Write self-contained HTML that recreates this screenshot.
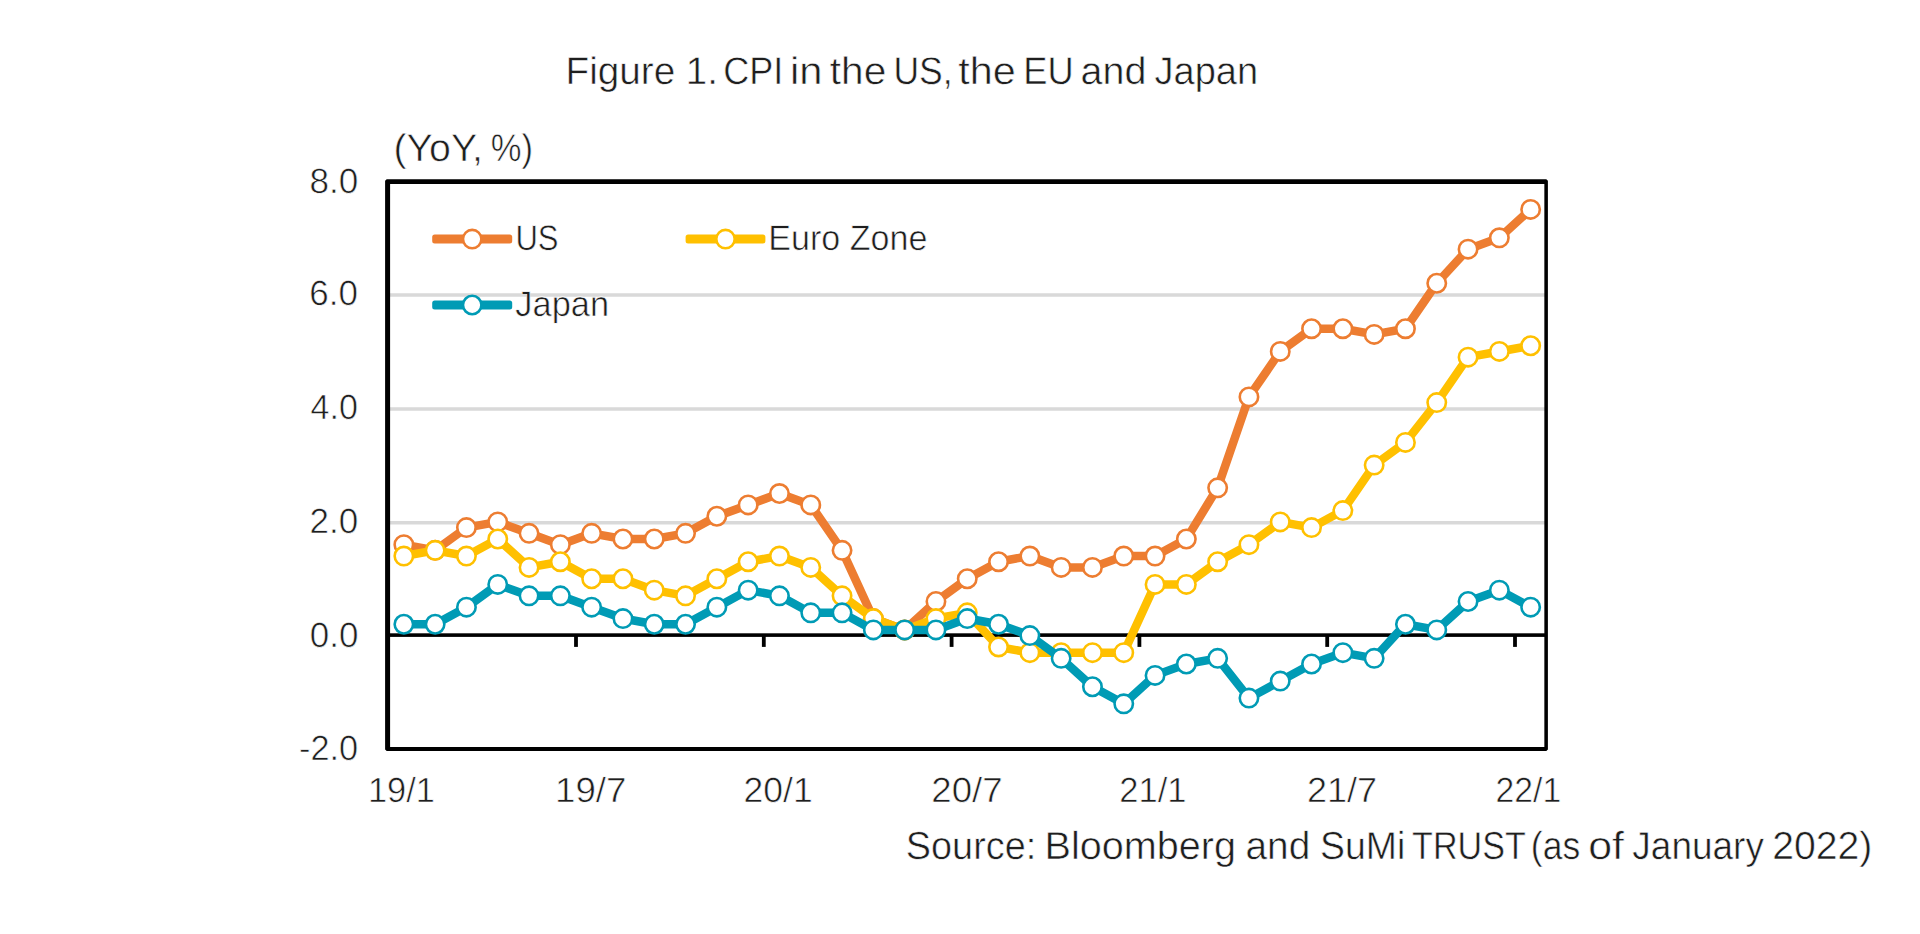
<!DOCTYPE html>
<html><head><meta charset="utf-8"><title>Figure 1. CPI in the US, the EU and Japan</title>
<style>
html,body{margin:0;padding:0;background:#fff;}
body{width:1920px;height:934px;overflow:hidden;}
svg{display:block;font-family:"Liberation Sans",sans-serif;}
text{fill:#1e1e1e;text-rendering:geometricPrecision;}
</style></head><body>
<svg width="1920" height="934" viewBox="0 0 1920 934">
<rect width="1920" height="934" fill="#fff"/>
<rect x="390" y="293.25" width="1155" height="3.5" fill="#d9d9d9"/>
<rect x="390" y="407.25" width="1155" height="3.5" fill="#d9d9d9"/>
<rect x="390" y="521.00" width="1155" height="3.5" fill="#d9d9d9"/>
<rect x="390" y="633.3" width="1155" height="3.6" fill="#000"/>
<rect x="574.10" y="635" width="3.8" height="11.9" fill="#000"/>
<rect x="761.90" y="635" width="3.8" height="11.9" fill="#000"/>
<rect x="949.70" y="635" width="3.8" height="11.9" fill="#000"/>
<rect x="1137.50" y="635" width="3.8" height="11.9" fill="#000"/>
<rect x="1325.30" y="635" width="3.8" height="11.9" fill="#000"/>
<rect x="1513.10" y="635" width="3.8" height="11.9" fill="#000"/>
<polyline points="403.85,544.67 435.15,550.36 466.45,527.62 497.75,521.94 529.05,533.31 560.35,544.67 591.65,533.31 622.95,538.99 654.25,538.99 685.55,533.31 716.85,516.26 748.15,504.89 779.45,493.53 810.75,504.89 842.05,550.36 873.35,618.55 904.65,629.92 935.95,601.50 967.25,578.77 998.55,561.72 1029.85,556.04 1061.15,567.40 1092.45,567.40 1123.75,556.04 1155.05,556.04 1186.35,538.99 1217.65,487.84 1248.95,396.91 1280.25,351.45 1311.55,328.72 1342.85,328.72 1374.15,334.40 1405.45,328.72 1436.75,283.25 1468.05,249.16 1499.35,237.79 1530.65,209.38" fill="none" stroke="#ed7d31" stroke-width="8.5" stroke-linejoin="round" stroke-linecap="round"/>
<circle cx="403.85" cy="544.67" r="9.2" fill="#fff" stroke="#ed7d31" stroke-width="2.6"/>
<circle cx="435.15" cy="550.36" r="9.2" fill="#fff" stroke="#ed7d31" stroke-width="2.6"/>
<circle cx="466.45" cy="527.62" r="9.2" fill="#fff" stroke="#ed7d31" stroke-width="2.6"/>
<circle cx="497.75" cy="521.94" r="9.2" fill="#fff" stroke="#ed7d31" stroke-width="2.6"/>
<circle cx="529.05" cy="533.31" r="9.2" fill="#fff" stroke="#ed7d31" stroke-width="2.6"/>
<circle cx="560.35" cy="544.67" r="9.2" fill="#fff" stroke="#ed7d31" stroke-width="2.6"/>
<circle cx="591.65" cy="533.31" r="9.2" fill="#fff" stroke="#ed7d31" stroke-width="2.6"/>
<circle cx="622.95" cy="538.99" r="9.2" fill="#fff" stroke="#ed7d31" stroke-width="2.6"/>
<circle cx="654.25" cy="538.99" r="9.2" fill="#fff" stroke="#ed7d31" stroke-width="2.6"/>
<circle cx="685.55" cy="533.31" r="9.2" fill="#fff" stroke="#ed7d31" stroke-width="2.6"/>
<circle cx="716.85" cy="516.26" r="9.2" fill="#fff" stroke="#ed7d31" stroke-width="2.6"/>
<circle cx="748.15" cy="504.89" r="9.2" fill="#fff" stroke="#ed7d31" stroke-width="2.6"/>
<circle cx="779.45" cy="493.53" r="9.2" fill="#fff" stroke="#ed7d31" stroke-width="2.6"/>
<circle cx="810.75" cy="504.89" r="9.2" fill="#fff" stroke="#ed7d31" stroke-width="2.6"/>
<circle cx="842.05" cy="550.36" r="9.2" fill="#fff" stroke="#ed7d31" stroke-width="2.6"/>
<circle cx="873.35" cy="618.55" r="9.2" fill="#fff" stroke="#ed7d31" stroke-width="2.6"/>
<circle cx="904.65" cy="629.92" r="9.2" fill="#fff" stroke="#ed7d31" stroke-width="2.6"/>
<circle cx="935.95" cy="601.50" r="9.2" fill="#fff" stroke="#ed7d31" stroke-width="2.6"/>
<circle cx="967.25" cy="578.77" r="9.2" fill="#fff" stroke="#ed7d31" stroke-width="2.6"/>
<circle cx="998.55" cy="561.72" r="9.2" fill="#fff" stroke="#ed7d31" stroke-width="2.6"/>
<circle cx="1029.85" cy="556.04" r="9.2" fill="#fff" stroke="#ed7d31" stroke-width="2.6"/>
<circle cx="1061.15" cy="567.40" r="9.2" fill="#fff" stroke="#ed7d31" stroke-width="2.6"/>
<circle cx="1092.45" cy="567.40" r="9.2" fill="#fff" stroke="#ed7d31" stroke-width="2.6"/>
<circle cx="1123.75" cy="556.04" r="9.2" fill="#fff" stroke="#ed7d31" stroke-width="2.6"/>
<circle cx="1155.05" cy="556.04" r="9.2" fill="#fff" stroke="#ed7d31" stroke-width="2.6"/>
<circle cx="1186.35" cy="538.99" r="9.2" fill="#fff" stroke="#ed7d31" stroke-width="2.6"/>
<circle cx="1217.65" cy="487.84" r="9.2" fill="#fff" stroke="#ed7d31" stroke-width="2.6"/>
<circle cx="1248.95" cy="396.91" r="9.2" fill="#fff" stroke="#ed7d31" stroke-width="2.6"/>
<circle cx="1280.25" cy="351.45" r="9.2" fill="#fff" stroke="#ed7d31" stroke-width="2.6"/>
<circle cx="1311.55" cy="328.72" r="9.2" fill="#fff" stroke="#ed7d31" stroke-width="2.6"/>
<circle cx="1342.85" cy="328.72" r="9.2" fill="#fff" stroke="#ed7d31" stroke-width="2.6"/>
<circle cx="1374.15" cy="334.40" r="9.2" fill="#fff" stroke="#ed7d31" stroke-width="2.6"/>
<circle cx="1405.45" cy="328.72" r="9.2" fill="#fff" stroke="#ed7d31" stroke-width="2.6"/>
<circle cx="1436.75" cy="283.25" r="9.2" fill="#fff" stroke="#ed7d31" stroke-width="2.6"/>
<circle cx="1468.05" cy="249.16" r="9.2" fill="#fff" stroke="#ed7d31" stroke-width="2.6"/>
<circle cx="1499.35" cy="237.79" r="9.2" fill="#fff" stroke="#ed7d31" stroke-width="2.6"/>
<circle cx="1530.65" cy="209.38" r="9.2" fill="#fff" stroke="#ed7d31" stroke-width="2.6"/>
<polyline points="403.85,556.04 435.15,550.36 466.45,556.04 497.75,538.99 529.05,567.40 560.35,561.72 591.65,578.77 622.95,578.77 654.25,590.14 685.55,595.82 716.85,578.77 748.15,561.72 779.45,556.04 810.75,567.40 842.05,595.82 873.35,618.55 904.65,629.92 935.95,618.55 967.25,612.87 998.55,646.97 1029.85,652.65 1061.15,652.65 1092.45,652.65 1123.75,652.65 1155.05,584.45 1186.35,584.45 1217.65,561.72 1248.95,544.67 1280.25,521.94 1311.55,527.62 1342.85,510.57 1374.15,465.11 1405.45,442.38 1436.75,402.60 1468.05,357.13 1499.35,351.45 1530.65,345.77" fill="none" stroke="#ffc000" stroke-width="8.5" stroke-linejoin="round" stroke-linecap="round"/>
<circle cx="403.85" cy="556.04" r="9.2" fill="#fff" stroke="#ffc000" stroke-width="2.6"/>
<circle cx="435.15" cy="550.36" r="9.2" fill="#fff" stroke="#ffc000" stroke-width="2.6"/>
<circle cx="466.45" cy="556.04" r="9.2" fill="#fff" stroke="#ffc000" stroke-width="2.6"/>
<circle cx="497.75" cy="538.99" r="9.2" fill="#fff" stroke="#ffc000" stroke-width="2.6"/>
<circle cx="529.05" cy="567.40" r="9.2" fill="#fff" stroke="#ffc000" stroke-width="2.6"/>
<circle cx="560.35" cy="561.72" r="9.2" fill="#fff" stroke="#ffc000" stroke-width="2.6"/>
<circle cx="591.65" cy="578.77" r="9.2" fill="#fff" stroke="#ffc000" stroke-width="2.6"/>
<circle cx="622.95" cy="578.77" r="9.2" fill="#fff" stroke="#ffc000" stroke-width="2.6"/>
<circle cx="654.25" cy="590.14" r="9.2" fill="#fff" stroke="#ffc000" stroke-width="2.6"/>
<circle cx="685.55" cy="595.82" r="9.2" fill="#fff" stroke="#ffc000" stroke-width="2.6"/>
<circle cx="716.85" cy="578.77" r="9.2" fill="#fff" stroke="#ffc000" stroke-width="2.6"/>
<circle cx="748.15" cy="561.72" r="9.2" fill="#fff" stroke="#ffc000" stroke-width="2.6"/>
<circle cx="779.45" cy="556.04" r="9.2" fill="#fff" stroke="#ffc000" stroke-width="2.6"/>
<circle cx="810.75" cy="567.40" r="9.2" fill="#fff" stroke="#ffc000" stroke-width="2.6"/>
<circle cx="842.05" cy="595.82" r="9.2" fill="#fff" stroke="#ffc000" stroke-width="2.6"/>
<circle cx="873.35" cy="618.55" r="9.2" fill="#fff" stroke="#ffc000" stroke-width="2.6"/>
<circle cx="904.65" cy="629.92" r="9.2" fill="#fff" stroke="#ffc000" stroke-width="2.6"/>
<circle cx="935.95" cy="618.55" r="9.2" fill="#fff" stroke="#ffc000" stroke-width="2.6"/>
<circle cx="967.25" cy="612.87" r="9.2" fill="#fff" stroke="#ffc000" stroke-width="2.6"/>
<circle cx="998.55" cy="646.97" r="9.2" fill="#fff" stroke="#ffc000" stroke-width="2.6"/>
<circle cx="1029.85" cy="652.65" r="9.2" fill="#fff" stroke="#ffc000" stroke-width="2.6"/>
<circle cx="1061.15" cy="652.65" r="9.2" fill="#fff" stroke="#ffc000" stroke-width="2.6"/>
<circle cx="1092.45" cy="652.65" r="9.2" fill="#fff" stroke="#ffc000" stroke-width="2.6"/>
<circle cx="1123.75" cy="652.65" r="9.2" fill="#fff" stroke="#ffc000" stroke-width="2.6"/>
<circle cx="1155.05" cy="584.45" r="9.2" fill="#fff" stroke="#ffc000" stroke-width="2.6"/>
<circle cx="1186.35" cy="584.45" r="9.2" fill="#fff" stroke="#ffc000" stroke-width="2.6"/>
<circle cx="1217.65" cy="561.72" r="9.2" fill="#fff" stroke="#ffc000" stroke-width="2.6"/>
<circle cx="1248.95" cy="544.67" r="9.2" fill="#fff" stroke="#ffc000" stroke-width="2.6"/>
<circle cx="1280.25" cy="521.94" r="9.2" fill="#fff" stroke="#ffc000" stroke-width="2.6"/>
<circle cx="1311.55" cy="527.62" r="9.2" fill="#fff" stroke="#ffc000" stroke-width="2.6"/>
<circle cx="1342.85" cy="510.57" r="9.2" fill="#fff" stroke="#ffc000" stroke-width="2.6"/>
<circle cx="1374.15" cy="465.11" r="9.2" fill="#fff" stroke="#ffc000" stroke-width="2.6"/>
<circle cx="1405.45" cy="442.38" r="9.2" fill="#fff" stroke="#ffc000" stroke-width="2.6"/>
<circle cx="1436.75" cy="402.60" r="9.2" fill="#fff" stroke="#ffc000" stroke-width="2.6"/>
<circle cx="1468.05" cy="357.13" r="9.2" fill="#fff" stroke="#ffc000" stroke-width="2.6"/>
<circle cx="1499.35" cy="351.45" r="9.2" fill="#fff" stroke="#ffc000" stroke-width="2.6"/>
<circle cx="1530.65" cy="345.77" r="9.2" fill="#fff" stroke="#ffc000" stroke-width="2.6"/>
<polyline points="403.85,624.23 435.15,624.23 466.45,607.19 497.75,584.45 529.05,595.82 560.35,595.82 591.65,607.19 622.95,618.55 654.25,624.23 685.55,624.23 716.85,607.19 748.15,590.14 779.45,595.82 810.75,612.87 842.05,612.87 873.35,629.92 904.65,629.92 935.95,629.92 967.25,618.55 998.55,624.23 1029.85,635.60 1061.15,658.33 1092.45,686.75 1123.75,703.80 1155.05,675.38 1186.35,664.01 1217.65,658.33 1248.95,698.11 1280.25,681.06 1311.55,664.01 1342.85,652.65 1374.15,658.33 1405.45,624.23 1436.75,629.92 1468.05,601.50 1499.35,590.14 1530.65,607.19" fill="none" stroke="#009bb5" stroke-width="8.5" stroke-linejoin="round" stroke-linecap="round"/>
<circle cx="403.85" cy="624.23" r="9.2" fill="#fff" stroke="#009bb5" stroke-width="2.6"/>
<circle cx="435.15" cy="624.23" r="9.2" fill="#fff" stroke="#009bb5" stroke-width="2.6"/>
<circle cx="466.45" cy="607.19" r="9.2" fill="#fff" stroke="#009bb5" stroke-width="2.6"/>
<circle cx="497.75" cy="584.45" r="9.2" fill="#fff" stroke="#009bb5" stroke-width="2.6"/>
<circle cx="529.05" cy="595.82" r="9.2" fill="#fff" stroke="#009bb5" stroke-width="2.6"/>
<circle cx="560.35" cy="595.82" r="9.2" fill="#fff" stroke="#009bb5" stroke-width="2.6"/>
<circle cx="591.65" cy="607.19" r="9.2" fill="#fff" stroke="#009bb5" stroke-width="2.6"/>
<circle cx="622.95" cy="618.55" r="9.2" fill="#fff" stroke="#009bb5" stroke-width="2.6"/>
<circle cx="654.25" cy="624.23" r="9.2" fill="#fff" stroke="#009bb5" stroke-width="2.6"/>
<circle cx="685.55" cy="624.23" r="9.2" fill="#fff" stroke="#009bb5" stroke-width="2.6"/>
<circle cx="716.85" cy="607.19" r="9.2" fill="#fff" stroke="#009bb5" stroke-width="2.6"/>
<circle cx="748.15" cy="590.14" r="9.2" fill="#fff" stroke="#009bb5" stroke-width="2.6"/>
<circle cx="779.45" cy="595.82" r="9.2" fill="#fff" stroke="#009bb5" stroke-width="2.6"/>
<circle cx="810.75" cy="612.87" r="9.2" fill="#fff" stroke="#009bb5" stroke-width="2.6"/>
<circle cx="842.05" cy="612.87" r="9.2" fill="#fff" stroke="#009bb5" stroke-width="2.6"/>
<circle cx="873.35" cy="629.92" r="9.2" fill="#fff" stroke="#009bb5" stroke-width="2.6"/>
<circle cx="904.65" cy="629.92" r="9.2" fill="#fff" stroke="#009bb5" stroke-width="2.6"/>
<circle cx="935.95" cy="629.92" r="9.2" fill="#fff" stroke="#009bb5" stroke-width="2.6"/>
<circle cx="967.25" cy="618.55" r="9.2" fill="#fff" stroke="#009bb5" stroke-width="2.6"/>
<circle cx="998.55" cy="624.23" r="9.2" fill="#fff" stroke="#009bb5" stroke-width="2.6"/>
<circle cx="1029.85" cy="635.60" r="9.2" fill="#fff" stroke="#009bb5" stroke-width="2.6"/>
<circle cx="1061.15" cy="658.33" r="9.2" fill="#fff" stroke="#009bb5" stroke-width="2.6"/>
<circle cx="1092.45" cy="686.75" r="9.2" fill="#fff" stroke="#009bb5" stroke-width="2.6"/>
<circle cx="1123.75" cy="703.80" r="9.2" fill="#fff" stroke="#009bb5" stroke-width="2.6"/>
<circle cx="1155.05" cy="675.38" r="9.2" fill="#fff" stroke="#009bb5" stroke-width="2.6"/>
<circle cx="1186.35" cy="664.01" r="9.2" fill="#fff" stroke="#009bb5" stroke-width="2.6"/>
<circle cx="1217.65" cy="658.33" r="9.2" fill="#fff" stroke="#009bb5" stroke-width="2.6"/>
<circle cx="1248.95" cy="698.11" r="9.2" fill="#fff" stroke="#009bb5" stroke-width="2.6"/>
<circle cx="1280.25" cy="681.06" r="9.2" fill="#fff" stroke="#009bb5" stroke-width="2.6"/>
<circle cx="1311.55" cy="664.01" r="9.2" fill="#fff" stroke="#009bb5" stroke-width="2.6"/>
<circle cx="1342.85" cy="652.65" r="9.2" fill="#fff" stroke="#009bb5" stroke-width="2.6"/>
<circle cx="1374.15" cy="658.33" r="9.2" fill="#fff" stroke="#009bb5" stroke-width="2.6"/>
<circle cx="1405.45" cy="624.23" r="9.2" fill="#fff" stroke="#009bb5" stroke-width="2.6"/>
<circle cx="1436.75" cy="629.92" r="9.2" fill="#fff" stroke="#009bb5" stroke-width="2.6"/>
<circle cx="1468.05" cy="601.50" r="9.2" fill="#fff" stroke="#009bb5" stroke-width="2.6"/>
<circle cx="1499.35" cy="590.14" r="9.2" fill="#fff" stroke="#009bb5" stroke-width="2.6"/>
<circle cx="1530.65" cy="607.19" r="9.2" fill="#fff" stroke="#009bb5" stroke-width="2.6"/>
<path fill="#000" fill-rule="evenodd" d="M386.70000000000005 179.15H1546.3000000000002L1547.9 180.75V749.5L1546.3000000000002 751.1H386.70000000000005L385.1 749.5V180.75Z M390.1 183.9V747.1H1544.35V183.9Z"/>
<rect x="432.2" y="234.60" width="80.00000000000006" height="9.0" rx="2.5" fill="#ed7d31"/>
<circle cx="472.20000000000005" cy="239.1" r="9.2" fill="#fff" stroke="#ed7d31" stroke-width="2.6"/>
<rect x="685.6" y="234.60" width="79.79999999999995" height="9.0" rx="2.5" fill="#ffc000"/>
<circle cx="725.5" cy="239.1" r="9.2" fill="#fff" stroke="#ffc000" stroke-width="2.6"/>
<rect x="432.2" y="300.50" width="80.00000000000006" height="9.0" rx="2.5" fill="#009bb5"/>
<circle cx="472.20000000000005" cy="305.0" r="9.2" fill="#fff" stroke="#009bb5" stroke-width="2.6"/>
<text x="565.62" y="84" font-size="38.5" textLength="109.67" lengthAdjust="spacingAndGlyphs" stroke="#fff" stroke-width="0.55">Figure</text>
<text x="685.79" y="84" font-size="38.5" textLength="32.07" lengthAdjust="spacingAndGlyphs" stroke="#fff" stroke-width="0.55">1.</text>
<text x="723.30" y="84" font-size="38.5" textLength="60.02" lengthAdjust="spacingAndGlyphs" stroke="#fff" stroke-width="0.55">CPI</text>
<text x="790.06" y="84" font-size="38.5" textLength="32.47" lengthAdjust="spacingAndGlyphs" stroke="#fff" stroke-width="0.55">in</text>
<text x="829.82" y="84" font-size="38.5" textLength="56.40" lengthAdjust="spacingAndGlyphs" stroke="#fff" stroke-width="0.55">the</text>
<text x="893.42" y="84" font-size="38.5" textLength="59.15" lengthAdjust="spacingAndGlyphs" stroke="#fff" stroke-width="0.55">US,</text>
<text x="958.36" y="84" font-size="38.5" textLength="57.44" lengthAdjust="spacingAndGlyphs" stroke="#fff" stroke-width="0.55">the</text>
<text x="1023.24" y="84" font-size="38.5" textLength="50.41" lengthAdjust="spacingAndGlyphs" stroke="#fff" stroke-width="0.55">EU</text>
<text x="1080.50" y="84" font-size="38.5" textLength="65.93" lengthAdjust="spacingAndGlyphs" stroke="#fff" stroke-width="0.55">and</text>
<text x="1154.50" y="84" font-size="38.5" textLength="103.69" lengthAdjust="spacingAndGlyphs" stroke="#fff" stroke-width="0.55">Japan</text>
<text x="905.84" y="859" font-size="39" textLength="130.38" lengthAdjust="spacingAndGlyphs" stroke="#fff" stroke-width="0.55">Source:</text>
<text x="1044.49" y="859" font-size="39" textLength="191.57" lengthAdjust="spacingAndGlyphs" stroke="#fff" stroke-width="0.55">Bloomberg</text>
<text x="1245.50" y="859" font-size="39" textLength="64.70" lengthAdjust="spacingAndGlyphs" stroke="#fff" stroke-width="0.55">and</text>
<text x="1320.07" y="859" font-size="39" textLength="85.19" lengthAdjust="spacingAndGlyphs" stroke="#fff" stroke-width="0.55">SuMi</text>
<text x="1412.11" y="859" font-size="39" textLength="113.60" lengthAdjust="spacingAndGlyphs" stroke="#fff" stroke-width="0.55">TRUST</text>
<text x="1530.83" y="859" font-size="39" textLength="49.36" lengthAdjust="spacingAndGlyphs" stroke="#fff" stroke-width="0.55">(as</text>
<text x="1588.16" y="859" font-size="39" textLength="35.77" lengthAdjust="spacingAndGlyphs" stroke="#fff" stroke-width="0.55">of</text>
<text x="1632.34" y="859" font-size="39" textLength="131.60" lengthAdjust="spacingAndGlyphs" stroke="#fff" stroke-width="0.55">January</text>
<text x="1772.28" y="859" font-size="39" textLength="100.15" lengthAdjust="spacingAndGlyphs" stroke="#fff" stroke-width="0.55">2022)</text>
<text x="393.42" y="161" font-size="38.5" textLength="89.61" lengthAdjust="spacingAndGlyphs" stroke="#fff" stroke-width="0.6">(YoY,</text>
<text x="490.66" y="161" font-size="38.5" textLength="42.27" lengthAdjust="spacingAndGlyphs" stroke="#fff" stroke-width="0.6">%)</text>
<text x="515.38" y="250" font-size="35.5" textLength="43.14" lengthAdjust="spacingAndGlyphs" stroke="#fff" stroke-width="0.6">US</text>
<text x="768.34" y="250" font-size="35.5" textLength="158.99" lengthAdjust="spacingAndGlyphs" stroke="#fff" stroke-width="0.6">Euro Zone</text>
<text x="515.33" y="316" font-size="35.5" textLength="93.72" lengthAdjust="spacingAndGlyphs" stroke="#fff" stroke-width="0.6">Japan</text>
<text x="309.56" y="193" font-size="35" textLength="48.81" lengthAdjust="spacingAndGlyphs" stroke="#fff" stroke-width="0.6">8.0</text>
<text x="309.29" y="305" font-size="35" textLength="48.62" lengthAdjust="spacingAndGlyphs" stroke="#fff" stroke-width="0.6">6.0</text>
<text x="310.50" y="419" font-size="35" textLength="47.32" lengthAdjust="spacingAndGlyphs" stroke="#fff" stroke-width="0.6">4.0</text>
<text x="309.51" y="533" font-size="35" textLength="48.72" lengthAdjust="spacingAndGlyphs" stroke="#fff" stroke-width="0.6">2.0</text>
<text x="309.80" y="647" font-size="35" textLength="48.62" lengthAdjust="spacingAndGlyphs" stroke="#fff" stroke-width="0.6">0.0</text>
<text x="298.98" y="760" font-size="35" textLength="59.21" lengthAdjust="spacingAndGlyphs" stroke="#fff" stroke-width="0.6">-2.0</text>
<text x="367.95" y="802" font-size="35" textLength="66.89" lengthAdjust="spacingAndGlyphs" stroke="#fff" stroke-width="0.6">19/1</text>
<text x="554.99" y="802" font-size="35" textLength="71.40" lengthAdjust="spacingAndGlyphs" stroke="#fff" stroke-width="0.6">19/7</text>
<text x="743.60" y="802" font-size="35" textLength="69.10" lengthAdjust="spacingAndGlyphs" stroke="#fff" stroke-width="0.6">20/1</text>
<text x="931.36" y="802" font-size="35" textLength="71.33" lengthAdjust="spacingAndGlyphs" stroke="#fff" stroke-width="0.6">20/7</text>
<text x="1119.34" y="802" font-size="35" textLength="67.20" lengthAdjust="spacingAndGlyphs" stroke="#fff" stroke-width="0.6">21/1</text>
<text x="1306.98" y="802" font-size="35" textLength="70.15" lengthAdjust="spacingAndGlyphs" stroke="#fff" stroke-width="0.6">21/7</text>
<text x="1495.55" y="802" font-size="35" textLength="65.69" lengthAdjust="spacingAndGlyphs" stroke="#fff" stroke-width="0.6">22/1</text>
</svg>
</body></html>
